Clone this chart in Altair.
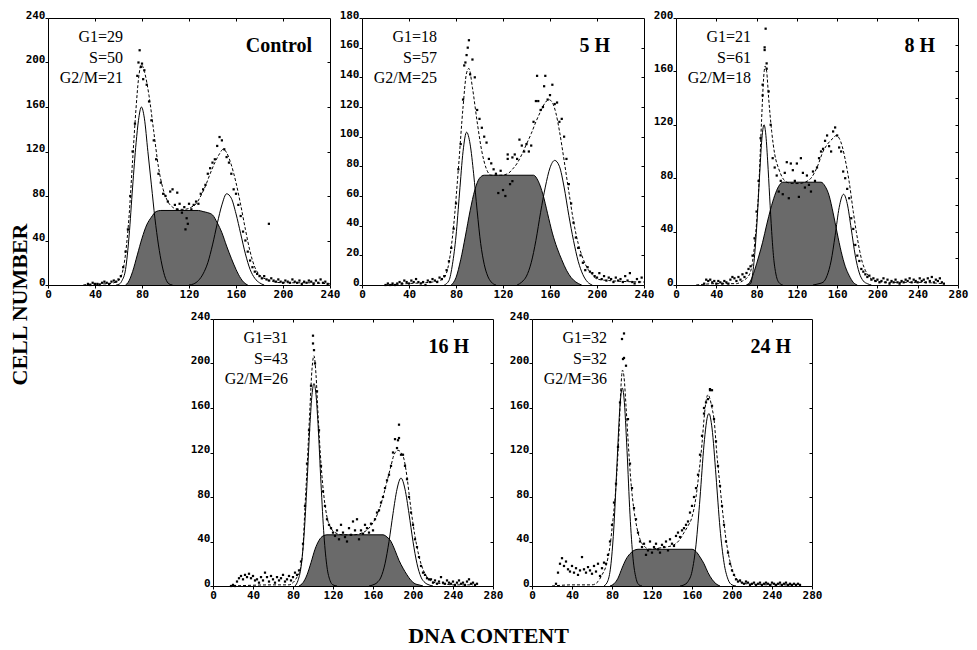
import altair as alt
import pandas as pd

# ---------------- values ----------------
# Control
CTRL_STATS = ["G1=29", "S=50", "G2/M=21"]
CTRL_G1 = [(58, 0), (61, 1), (63, 4), (66, 14), (69, 44), (72, 88), (75, 128), (77, 148), (79.5, 160),
           (82, 150), (85, 120), (88, 90), (91, 60), (94, 36), (97, 18), (100, 6), (103, 1), (106, 0)]
CTRL_S = [(66, 0), (68, 2), (72, 12), (76, 27), (80, 42), (84, 54), (88, 61), (92, 66), (96, 67), (128, 67),
          (132, 66), (136, 65), (140, 63), (144, 56), (148, 47), (152, 35), (156, 24), (160, 14), (164, 6),
          (167, 2), (170, 0)]
CTRL_G2 = [(120, 0), (124, 1), (128, 4), (132, 10), (136, 20), (140, 36), (144, 55), (148, 72), (152, 82),
           (156, 78), (160, 64), (164, 46), (168, 28), (172, 14), (176, 6), (180, 2), (184, 0)]
CTRL_TOTAL = [(30, 0), (40, 1), (50, 1), (56, 2), (60, 4), (63, 10), (66, 28), (69, 62), (72, 112), (75, 160),
              (77, 185), (79.5, 198), (82, 192), (86, 170), (90, 138), (94, 106), (98, 86), (102, 75), (106, 70),
              (110, 68), (116, 68), (122, 70), (126, 73), (130, 80), (134, 89), (138, 100), (142, 110), (146, 118),
              (149, 122), (152, 119), (156, 108), (160, 92), (164, 72), (168, 50), (172, 30), (176, 16), (180, 9),
              (186, 5), (192, 3), (200, 2), (220, 2), (240, 1)]
CTRL_DOT_X0 = 34
CTRL_DOTS = [1, 0, 2, 1, 1, 0, 2, 3, 2, 1, 3, 4,
             3, 5, 8, 16, 30, 50, 80, 120, 145, 188, 211, 199,
             193, 180, 165, 148, 130, 113, 100, 92, 82, 80,
             75, 84, 86, 72, 68, 73, 65, 70, 60, 73,
             68, 72, 75, 73, 82, 86, 90, 100, 105, 110,
             113, 125, 133, 130, 122, 115, 110, 100, 86, 82,
             72, 62, 48, 40, 30, 22, 16, 12, 10, 8,
             6, 8, 5, 4, 6, 4, 3, 5, 3, 2,
             4, 3, 2, 5, 3, 2, 4, 1, 3, 2,
             4, 3, 1, 4, 2, 5, 2, 3, 1]
CTRL_EXTRA = [(188, 55), (79, 196), (81, 185), (77, 200), (110, 83), (117, 50), (119, 55)]

# 5 H
H5_STATS = ["G1=18", "S=57", "G2/M=25"]
H5_G1 = [(70, 0), (74, 3), (77, 14), (80, 33), (83, 62), (86, 90), (89, 103), (92, 95), (95, 75), (98, 50),
         (101, 28), (104, 14), (107, 6), (110, 2), (114, 0)]
H5_S = [(76, 0), (80, 5), (84, 17), (88, 33), (92, 50), (96, 64), (100, 72), (104, 74), (146, 74), (150, 70),
        (154, 61), (158, 48), (162, 35), (166, 25), (170, 17), (174, 10), (178, 5), (182, 2), (187, 0)]
H5_G2 = [(132, 0), (136, 2), (140, 6), (144, 15), (148, 30), (152, 49), (156, 66), (160, 79), (164, 84),
         (168, 80), (172, 66), (176, 47), (180, 30), (184, 16), (188, 7), (192, 2), (196, 0)]
H5_TOTAL = [(20, 0), (40, 1), (60, 2), (66, 3), (70, 5), (74, 15), (78, 40), (82, 78), (86, 120), (89, 143),
            (91, 146), (94, 133), (98, 110), (102, 90), (106, 78), (110, 74), (118, 74), (124, 75), (128, 78),
            (132, 82), (136, 88), (140, 95), (144, 102), (148, 110), (152, 117), (156, 123), (159, 125),
            (162, 123), (165, 116), (168, 104), (172, 84), (176, 63), (180, 43), (184, 28), (188, 18), (192, 11),
            (196, 7), (200, 4), (210, 3), (240, 2)]
H5_DOT_X0 = 20
H5_DOTS = [0, 1, 0, 1, 0, 1, 2, 1, 3, 2, 1, 3, 2, 4, 2, 1, 2, 0, 3, 2, 4, 3, 2, 5,
           4, 6, 10, 16, 25, 38, 55, 78, 95, 125,
           150, 160, 142, 152, 140, 118, 112, 106, 100, 96,
           85, 82, 78, 75, 62, 77, 64, 60, 85, 68,
           70, 88, 85, 98, 94, 90, 95, 90, 94, 110,
           124, 124, 118, 120, 141, 125, 128, 135, 122, 123,
           110, 112, 100, 85, 68, 55, 42, 32, 25, 20,
           15, 10, 12, 9, 8, 6, 5, 8, 4, 6,
           3, 5, 4, 2, 5, 3, 4, 2, 6, 3,
           8, 2, 1, 4, 2, 5]
H5_EXTRA = [(91, 165), (89, 155), (87, 148), (124, 88), (128, 86), (149, 141), (155, 134)]

# 8 H
H8_STATS = ["G1=21", "S=61", "G2/M=18"]
H8_G1 = [(70, 0), (74, 1), (77, 14), (80, 42), (83, 82), (85, 107), (87.4, 120), (89, 114), (91, 93), (93, 66),
         (95, 40), (97, 20), (99, 9), (102, 2), (106, 0)]
H8_S = [(70, 0), (74, 3), (78, 11), (82, 21), (86, 32), (90, 45), (94, 57), (98, 67), (102, 74), (106, 77),
        (144, 77), (148, 74), (152, 67), (156, 54), (160, 39), (164, 25), (168, 14), (172, 7), (176, 2), (180, 0)]
H8_G2 = [(136, 0), (142, 1), (146, 2), (150, 7), (154, 18), (158, 37), (162, 58), (166.4, 68), (170, 61),
         (174, 42), (178, 22), (182, 9), (186, 3), (190, 1), (194, 0)]
H8_TOTAL = [(20, 0), (40, 1), (60, 1), (66, 3), (70, 5), (74, 10), (78, 30), (82, 70), (85, 124), (87, 155),
            (88.5, 164), (90, 160), (92, 140), (95, 115), (98, 98), (102, 87), (106, 80), (110, 77), (116, 76),
            (122, 76), (128, 77), (134, 80), (140, 88), (146, 100), (152, 107), (156, 110), (159, 112), (162, 110),
            (165, 104), (168, 94), (172, 77), (176, 55), (179, 40), (182, 27), (185, 17), (188, 11), (192, 6),
            (198, 3), (210, 2), (240, 2), (265, 1)]
H8_DOT_X0 = 28
H8_DOTS = [1, 4, 3, 4, 2, 3, 1, 3, 2, 1, 3, 2, 1, 4, 6, 5, 3, 6, 4, 8,
           6, 9, 12, 14, 22, 35, 55, 78, 110, 142,
           178, 162, 145, 120, 95, 88, 82, 70, 78, 68,
           84, 92, 65, 91, 86, 78, 91, 66, 95, 84,
           73, 82, 75, 70, 85, 78, 88, 95, 100, 102,
           108, 112, 104, 100, 115, 118, 112, 103, 100, 85,
           80, 72, 65, 50, 42, 30, 22, 18, 12, 10,
           8, 6, 7, 4, 5, 3, 4, 2, 3, 5,
           2, 4, 1, 3, 2, 4, 2, 1, 3, 2,
           4, 3, 5, 2, 4, 3, 2, 5, 3, 4,
           2, 5, 3, 6, 2, 4, 3, 5, 2, 1]
H8_EXTRA = [(89, 192), (88, 176), (90, 166), (86, 150)]

# 16 H
H16_STATS = ["G1=31", "S=43", "G2/M=26"]
H16_G1 = [(82, 0), (85, 5), (88, 17), (91, 45), (94, 92), (97, 146), (99, 172), (101, 182), (103, 172),
          (105, 146), (108, 92), (111, 45), (114, 17), (117, 5), (120, 1), (124, 0)]
H16_S = [(86, 0), (90, 3), (94, 10), (98, 21), (102, 33), (106, 41), (110, 45), (114, 46), (170, 46), (174, 44),
         (178, 40), (182, 32), (186, 23), (190, 16), (194, 10), (198, 5), (202, 2), (206, 1), (210, 0)]
H16_G2 = [(156, 0), (160, 1), (164, 3), (168, 8), (172, 20), (176, 40), (180, 65), (184, 87), (188, 97),
          (192, 87), (196, 65), (200, 40), (204, 20), (208, 8), (212, 3), (216, 1), (220, 0)]
H16_TOTAL = [(20, 0), (60, 1), (76, 1), (80, 3), (84, 8), (87, 14), (90, 35), (92, 71), (94, 105), (97, 161),
             (99, 195), (101, 207), (103, 190), (105, 155), (108, 110), (111, 80), (114, 62), (118, 52),
             (122, 48), (130, 46), (140, 46), (150, 48), (156, 52), (162, 60), (166, 68), (170, 80), (174, 94),
             (178, 108), (181, 118), (185, 122), (188, 120), (191, 114), (194, 98), (197, 76), (200, 56),
             (204, 35), (208, 20), (212, 11), (216, 6), (222, 3), (230, 2), (240, 1), (260, 1)]
H16_DOT_X0 = 18
H16_DOTS = [0, 1, 0, 4, 7, 9, 6, 10, 8, 11,
            7, 9, 5, 6, 3, 8, 5, 12, 8, 4,
            9, 6, 3, 8, 5, 7, 10, 4, 6, 9,
            5, 8, 12, 10, 14, 22, 38, 72, 110, 140,
            180, 225, 200, 175, 140, 108, 85, 72, 60, 55,
            52, 48, 45, 50, 42, 55, 48, 44, 40, 52,
            46, 58, 50, 60, 42, 50, 47, 55, 52, 48,
            56, 50, 60, 66, 68, 75, 80, 88, 95, 100,
            108, 120, 132, 124, 145, 118, 118, 108, 96, 80,
            66, 55, 42, 35, 26, 18, 12, 10, 7, 6,
            6, 3, 5, 2, 4, 8, 3, 2, 5, 3,
            2, 4, 1, 3, 5, 2, 3, 1, 4, 6,
            2, 3, 1, 2]
H16_EXTRA = [(100, 218), (101, 212), (186, 133), (185, 131)]

# 24 H
H24_STATS = ["G1=32", "S=32", "G2/M=36"]
H24_G1 = [(72, 0), (76, 5), (79, 20), (82, 55), (85, 110), (88, 162), (90.3, 178), (92, 169), (95, 122),
          (98, 64), (101, 25), (104, 7), (107, 1), (110, 0)]
H24_S = [(78, 0), (82, 2), (86, 7), (90, 16), (94, 24), (98, 29), (102, 32), (106, 33), (160, 33), (164, 31),
         (168, 26), (172, 20), (176, 12), (180, 6), (184, 2), (188, 0)]
H24_G2 = [(148, 0), (152, 1), (156, 4), (160, 13), (164, 37), (168, 79), (172, 127), (176, 154), (177, 155),
          (180, 142), (184, 99), (188, 52), (192, 21), (196, 6), (200, 1), (204, 0)]
H24_TOTAL = [(20, 0), (40, 1), (60, 1), (66, 4), (70, 10), (74, 18), (78, 36), (81, 60), (84, 90), (87, 138),
             (89, 180), (90.5, 194), (92, 188), (94, 162), (96, 132), (99, 93), (102, 68), (105, 52), (108, 42),
             (112, 36), (118, 33), (126, 34), (134, 35), (142, 37), (148, 42), (152, 48), (156, 54), (160, 62),
             (164, 80), (167, 102), (170, 128), (172, 150), (174, 166), (176, 172), (178, 168), (180, 160),
             (182, 150), (185, 117), (188, 90), (190, 72), (192, 56), (195, 36), (198, 22), (200, 15), (204, 7),
             (208, 4), (214, 2), (240, 1), (260, 1)]
H24_DOT_X0 = 24
H24_DOTS = [2, 12, 20, 25, 18, 22, 15, 13, 18, 12,
            16, 10, 14, 26, 15, 12, 17, 14, 11, 18,
            13, 20, 9, 16, 21, 20, 28, 40, 55, 75,
            92, 125, 165, 222, 205, 198, 150, 110, 88, 70,
            60, 48, 40, 35, 38, 28, 32, 40, 30, 35,
            38, 33, 30, 37, 35, 40, 32, 42, 38, 36,
            45, 48, 44, 50, 52, 55, 58, 66, 72, 80,
            88, 100, 118, 135, 155, 165, 168, 176, 162, 150,
            130, 108, 90, 72, 55, 40, 30, 20, 14, 10,
            6, 4, 5, 3, 2, 4, 3, 1, 2, 3,
            1, 2, 3, 1, 2, 3, 2, 1, 3, 2,
            1, 2, 3, 1, 2, 3, 1, 2, 1, 2,
            1, 2, 1]
H24_EXTRA = [(92, 227), (91, 204), (178, 177), (180, 176), (172, 160)]

PANELS = [
    dict(title="Control", stats=CTRL_STATS, xmax=240, ymax=240, ystep=40, rstep=40,
         g1=CTRL_G1, s=CTRL_S, g2=CTRL_G2, tot=CTRL_TOTAL, x0=CTRL_DOT_X0, dots=CTRL_DOTS, extra=CTRL_EXTRA),
    dict(title="5 H", stats=H5_STATS, xmax=240, ymax=180, ystep=20, rstep=20,
         g1=H5_G1, s=H5_S, g2=H5_G2, tot=H5_TOTAL, x0=H5_DOT_X0, dots=H5_DOTS, extra=H5_EXTRA),
    dict(title="8 H", stats=H8_STATS, xmax=280, ymax=200, ystep=40, rstep=20,
         g1=H8_G1, s=H8_S, g2=H8_G2, tot=H8_TOTAL, x0=H8_DOT_X0, dots=H8_DOTS, extra=H8_EXTRA),
    dict(title="16 H", stats=H16_STATS, xmax=280, ymax=240, ystep=40, rstep=40,
         g1=H16_G1, s=H16_S, g2=H16_G2, tot=H16_TOTAL, x0=H16_DOT_X0, dots=H16_DOTS, extra=H16_EXTRA),
    dict(title="24 H", stats=H24_STATS, xmax=280, ymax=240, ystep=40, rstep=40,
         g1=H24_G1, s=H24_S, g2=H24_G2, tot=H24_TOTAL, x0=H24_DOT_X0, dots=H24_DOTS, extra=H24_EXTRA),
]

# ---------------- styling / layout ----------------
SERIF = "Liberation Serif"
TICKFONT = "DejaVu Sans Mono"
FILL = "#6a6a6a"
TITLE_RIGHT = [18, 34, 23, 24, 21]
SIZES = [(282, 267), (282, 267), (282, 267), (280, 267), (280, 267)]


def frame(pairs):
    return pd.DataFrame(pairs, columns=["x", "y"])


def panel(i):
    p = PANELS[i]
    w, h = SIZES[i]
    xsc = alt.Scale(domain=[0, p["xmax"]], nice=False, zero=False)
    ysc = alt.Scale(domain=[0, p["ymax"]], nice=False, zero=False)
    xt = list(range(0, p["xmax"] + 1, 40))
    yt = list(range(0, p["ymax"] + 1, p["ystep"]))
    rt = list(range(0, p["ymax"] + 1, p["rstep"]))
    lab = dict(labelFont=TICKFONT, labelFontSize=11, labelFontWeight="bold", labelColor="black",
               labelFlush=False, labelOverlap=False)
    ax_b = alt.Axis(values=xt, format="d", orient="bottom", domain=False, grid=False, tickSize=3,
                    tickColor="black", labelPadding=0, title=None, **lab)
    ax_l = alt.Axis(values=yt, format="d", orient="left", domain=False, grid=False, tickSize=3,
                    tickColor="black", labelPadding=0, labelBaseline="alphabetic", title=None, **lab)
    ax_t = alt.Axis(values=xt[1:-1], orient="top", labels=False, domain=False, grid=False, tickSize=3,
                    offset=-3, tickColor="black", title=None)
    ax_r = alt.Axis(values=rt[1:-1], orient="right", labels=False, domain=False, grid=False, tickSize=3,
                    offset=-3, tickColor="black", title=None)

    def enc(axx=None, axy=None):
        return dict(x=alt.X("x:Q", scale=xsc, axis=axx), y=alt.Y("y:Q", scale=ysc, axis=axy))

    area = alt.Chart(frame(p["s"])).mark_area(interpolate="monotone", color=FILL, opacity=1).encode(
        **enc(ax_b, ax_l))
    s_line = alt.Chart(frame(p["s"])).mark_line(interpolate="monotone", color="black", strokeWidth=1).encode(
        **enc(ax_t, ax_r))
    g1 = alt.Chart(frame(p["g1"])).mark_line(interpolate="monotone", color="black", strokeWidth=1).encode(**enc())
    g2 = alt.Chart(frame(p["g2"])).mark_line(interpolate="monotone", color="black", strokeWidth=1).encode(**enc())
    tot = alt.Chart(frame(p["tot"])).mark_line(interpolate="monotone", color="black", strokeWidth=1,
                                               strokeDash=[3, 2]).encode(**enc())
    dots_df = pd.DataFrame({"x": [p["x0"] + 2 * k for k in range(len(p["dots"]))], "y": p["dots"]})
    dots = alt.Chart(dots_df).mark_square(size=5, color="black", opacity=1).encode(**enc())
    extra = alt.Chart(frame(p["extra"])).mark_square(size=5, color="black", opacity=1).encode(**enc())
    stats = alt.Chart(pd.DataFrame({"t": ["\n".join(p["stats"])]})).mark_text(
        align="right", baseline="alphabetic", font=SERIF, fontSize=16, lineHeight=20.5, lineBreak="\n",
        color="black").encode(text="t:N", x=alt.value(75), y=alt.value(24))
    ttl = alt.Chart(pd.DataFrame({"t": [p["title"]]})).mark_text(
        align="right", baseline="alphabetic", font=SERIF, fontSize=20, fontWeight="bold",
        color="black").encode(text="t:N", x=alt.value(w - TITLE_RIGHT[i]), y=alt.value(34))
    return alt.layer(area, s_line, g1, g2, tot, dots, extra, stats, ttl).properties(width=w, height=h)


spacer = alt.Chart(pd.DataFrame({"a": [0]})).mark_point(opacity=0).encode(
    x=alt.value(0), y=alt.value(0)).properties(width=126, height=10,
                                               view=alt.ViewBackground(stroke="transparent"))

row1 = alt.hconcat(panel(0), panel(1), panel(2), spacing=32, bounds="flush")
row2 = alt.hconcat(spacer, panel(3), panel(4), spacing=39, bounds="flush")

body = alt.vconcat(row1, row2, spacing=9).properties(
    title=alt.TitleParams("CELL NUMBER", orient="left", anchor="middle", font=SERIF, fontSize=22,
                          fontWeight="bold", color="black", offset=-7))

chart = alt.vconcat(body).properties(
    title=alt.TitleParams("DNA CONTENT", orient="bottom", anchor="middle", font=SERIF, fontSize=22,
                          fontWeight="bold", color="black", offset=25),
    padding={"left": 0, "top": 0, "right": 0, "bottom": 0},
).configure_view(stroke="black", strokeWidth=1)

chart.save("out.html", embed_options={"renderer": "svg", "actions": False})
